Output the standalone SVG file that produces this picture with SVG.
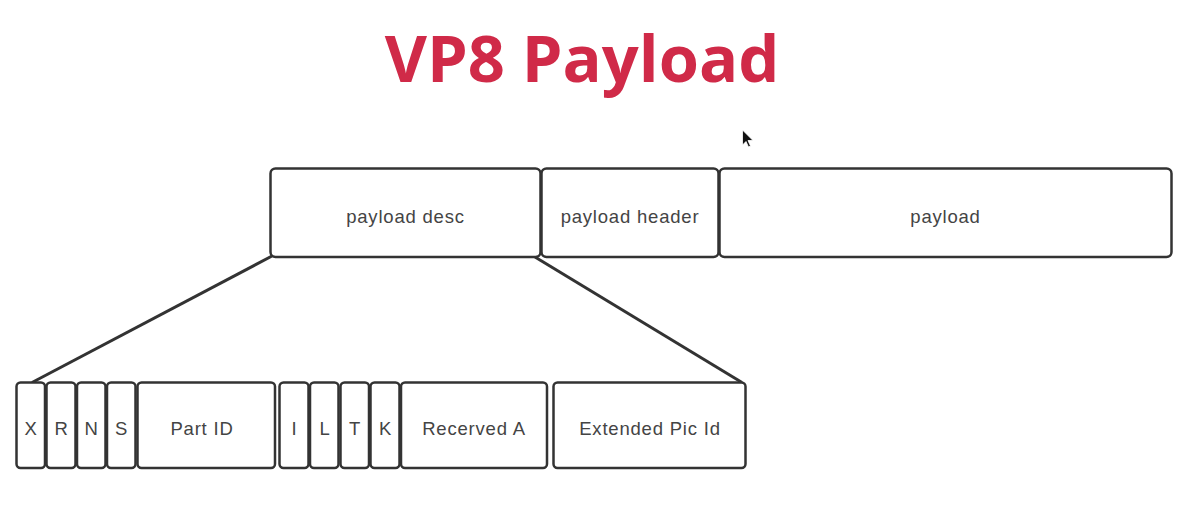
<svg xmlns="http://www.w3.org/2000/svg" width="1188" height="511" viewBox="0 0 1188 511">
<style>
.box{fill:#fff;stroke:#333;stroke-width:2.5}
.lbl{font-family:"Liberation Sans",Arial,sans-serif;font-size:18.5px;fill:#444;text-anchor:middle;letter-spacing:0.8px}
.title{font-family:"Open Sans","Noto Sans",sans-serif;font-weight:bold;font-size:65px;fill:#d02a48;text-anchor:middle}
.conn{stroke:#333;stroke-width:3;fill:none}
</style>
<rect width="1188" height="511" fill="#fff"/>
<text class="title" x="582" y="82">VP8 Payload</text>
<path d="M742.5,130 L742.5,145 L746,141.5 L748.5,147 L750.5,146 L748,140.5 L753,140.5 Z" fill="#111" stroke="#fff" stroke-width="0.8"/>
<g id="connectors">
<line class="conn" x1="272" y1="256" x2="32" y2="382.5"/>
<line class="conn" x1="535" y1="257" x2="742" y2="382.5"/>
</g>
<g id="payload-desc"><rect class="box" x="270.5" y="168.5" width="270" height="88.5" rx="5"/><text class="lbl" x="405.5" y="222.5">payload desc</text></g>
<g id="payload-header"><rect class="box" x="541.5" y="168.5" width="177" height="88.5" rx="5"/><text class="lbl" x="630" y="222.5">payload header</text></g>
<g id="payload"><rect class="box" x="719.5" y="168.5" width="452" height="88.5" rx="5"/><text class="lbl" x="945.5" y="222.5">payload</text></g>
<g id="X"><rect class="box" x="16.5" y="382.5" width="28.5" height="85.5" rx="4"/><text class="lbl" x="31" y="434.5">X</text></g>
<g id="R"><rect class="box" x="46.5" y="382.5" width="29" height="85.5" rx="4"/><text class="lbl" x="61.5" y="434.5">R</text></g>
<g id="N"><rect class="box" x="77" y="382.5" width="28.5" height="85.5" rx="4"/><text class="lbl" x="91.5" y="434.5">N</text></g>
<g id="S"><rect class="box" x="107" y="382.5" width="28.5" height="85.5" rx="4"/><text class="lbl" x="121.5" y="434.5">S</text></g>
<g id="PartID"><rect class="box" x="137.5" y="382.5" width="137.5" height="85.5" rx="4"/><text class="lbl" x="202" y="434.5">Part ID</text></g>
<g id="I"><rect class="box" x="279.5" y="382.5" width="29" height="85.5" rx="4"/><text class="lbl" x="294.5" y="434.5">I</text></g>
<g id="L"><rect class="box" x="310" y="382.5" width="28.5" height="85.5" rx="4"/><text class="lbl" x="325" y="434.5">L</text></g>
<g id="T"><rect class="box" x="340.5" y="382.5" width="28.5" height="85.5" rx="4"/><text class="lbl" x="355" y="434.5">T</text></g>
<g id="K"><rect class="box" x="370.5" y="382.5" width="29" height="85.5" rx="4"/><text class="lbl" x="385.5" y="434.5">K</text></g>
<g id="RecervedA"><rect class="box" x="401" y="382.5" width="146" height="85.5" rx="4"/><text class="lbl" x="474" y="434.5">Recerved A</text></g>
<g id="ExtendedPicId"><rect class="box" x="553.5" y="382.5" width="192" height="85.5" rx="4"/><text class="lbl" x="650" y="434.5">Extended Pic Id</text></g>
</svg>
